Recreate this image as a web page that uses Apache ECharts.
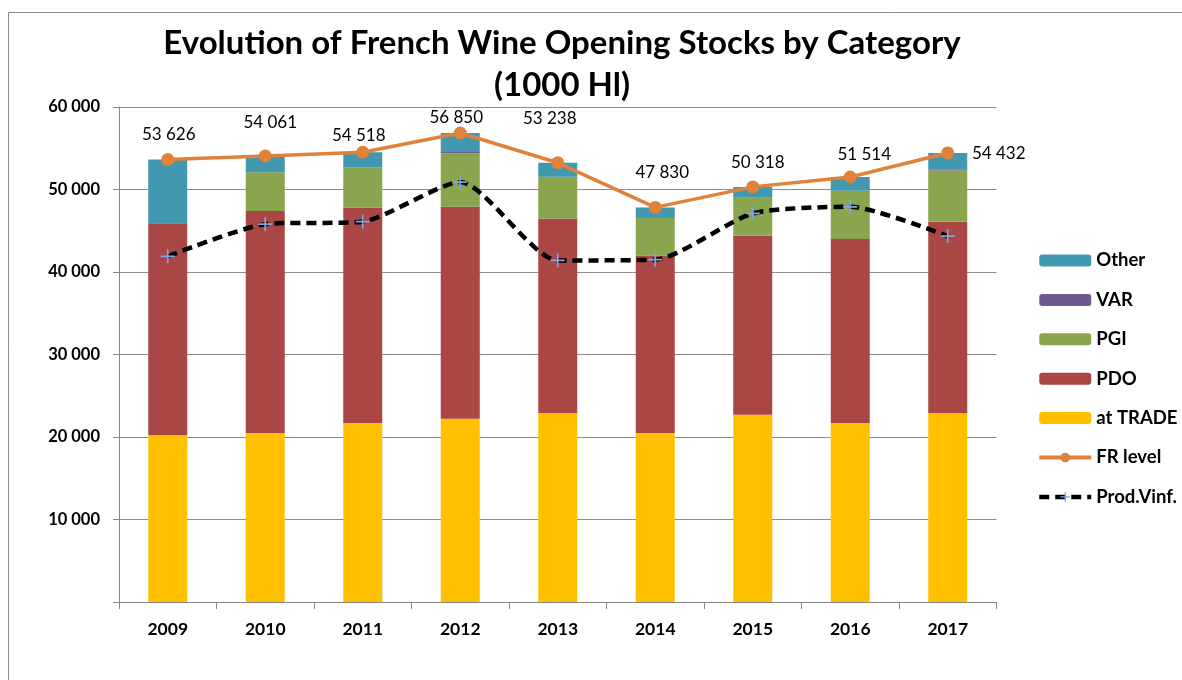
<!DOCTYPE html>
<html>
<head>
<meta charset="utf-8">
<script src="https://cdn.jsdelivr.net/npm/echarts@6/dist/echarts.min.js"></script>
<style>
html,body{margin:0;padding:0;background:#fff;}
#chart{width:1182px;height:680px;}
</style>
</head>
<body>
<div id="chart"></div>
<script>
// ---- data ----
const years = ['2009','2010','2011','2012','2013','2014','2015','2016','2017'];
const atTrade = [20200, 20500, 21700, 22200, 22900, 20500, 22700, 21700, 22900];
const pdo     = [25700, 26900, 26100, 25700, 23600, 21500, 21700, 22300, 23200];
const pgi     = [0, 4700, 4900, 6500, 5050, 4550, 4600, 5850, 6200];
const varCat  = [0, 0, 0, 150, 0, 0, 0, 0, 150];
const other   = [7726, 1961, 1818, 2300, 1688, 1280, 1318, 1664, 1982];
const frLevel = [53626, 54061, 54518, 56850, 53238, 47830, 50318, 51514, 54432];
const prodVinf = [41900, 45800, 46100, 50900, 41400, 41500, 47100, 47900, 44350];
const yTicks = [0, 10000, 20000, 30000, 40000, 50000, 60000];

// ---- layout (label placement, not data) ----
const frLabelOffsets = [[1,-25],[5,-33],[-4,-17],[-4,-15],[-8,-44],[7,-35],[5,-24],[14,-22],[51,1]];

const FONT = 'Lato';
const fmt = v => String(v).replace(/\B(?=(\d{3})+(?!\d))/g, ' ');

const chart = echarts.init(document.getElementById('chart'));

const barSeries = (name, data, color) => ({
  name, type: 'bar', stack: 'stocks', data, barWidth: '40%',
  itemStyle: { color }, emphasis: { disabled: true }
});

const option = {
  animation: false,
  backgroundColor: '#fff',
  graphic: [
    { type: 'rect', shape: { x: 8.5, y: 12.5, width: 1400, height: 900 },
      style: { fill: 'none', stroke: '#8c8c8c', lineWidth: 1 }, silent: true },
    { type: 'text', x: 562, y: 22,
      style: { text: 'Evolution of French Wine Opening Stocks by Category\n(1000 Hl)',
        align: 'center', verticalAlign: 'top', font: 'bold 33px ' + FONT, lineHeight: 42, fill: '#000' } }
  ],
  legend: {
    orient: 'vertical', left: 1032, top: 246, padding: 5,
    itemWidth: 52, itemHeight: 12, itemGap: 20.4,
    data: [
      { name: 'Other' }, { name: 'VAR' }, { name: 'PGI' }, { name: 'PDO' }, { name: 'at TRADE' },
      { name: 'FR level', lineStyle: { width: 4 } },
      { name: 'Prod.Vinf.', lineStyle: { width: 4.5 } }
    ],
    textStyle: { fontFamily: FONT, fontWeight: 'bold', fontSize: 18.5, color: '#000', lineHeight: 17 }
  },
  grid: { left: 119, right: 185.5, top: 107, bottom: 78, containLabel: false },
  xAxis: [
    { type: 'category', data: years, boundaryGap: true,
      axisLine: { lineStyle: { color: '#868686', width: 1 } },
      axisTick: { show: true, length: 7, lineStyle: { color: '#868686' } },
      axisLabel: { fontFamily: FONT, fontWeight: 'bold', fontSize: 17.5, color: '#000', margin: 18 } },
    { type: 'category', data: years, position: 'bottom', boundaryGap: true,
      axisLine: { show: false },
      axisTick: { show: true, alignWithLabel: true, inside: true, length: 4, lineStyle: { color: '#868686' } },
      axisLabel: { show: false } }
  ],
  yAxis: {
    type: 'value', min: 0, max: 60000, interval: 10000,
    axisLine: { show: true, lineStyle: { color: '#868686' } },
    axisTick: { show: true, length: 6, lineStyle: { color: '#868686' } },
    splitLine: { show: true, lineStyle: { color: '#8c8c8c', width: 1 } },
    axisLabel: { fontFamily: FONT, fontWeight: 'bold', fontSize: 16.5, color: '#000', margin: 19,
      formatter: v => (yTicks.includes(v) && v !== 0) ? fmt(v) : '' }
  },
  series: [
    barSeries('at TRADE', atTrade, '#FFC000'),
    barSeries('PDO', pdo, '#AA4643'),
    barSeries('PGI', pgi, '#89A54E'),
    barSeries('VAR', varCat, '#71588F'),
    barSeries('Other', other, '#4198AF'),
    { name: 'Prod.Vinf.', type: 'line', data: prodVinf, smooth: 0.22,
      lineStyle: { color: '#000', width: 4.5, type: [10, 6] },
      symbol: 'path://M0,4.4H10V5.6H0Z M4.4,0H5.6V10H4.4Z', symbolSize: 14,
      itemStyle: { color: '#7EA6E0' }, z: 4, emphasis: { disabled: true } },
    { name: 'FR level', type: 'line', data: frLevel.map((v, i) => ({
        value: v, label: { offset: frLabelOffsets[i] } })),
      lineStyle: { color: '#E0823A', width: 3.5 },
      symbol: 'circle', symbolSize: 13, itemStyle: { color: '#E0823A' }, z: 5,
      label: { show: true, position: 'inside', fontFamily: FONT, fontSize: 17, color: '#000',
        formatter: p => fmt(p.value) },
      emphasis: { disabled: true } }
  ]
};
chart.setOption(option);
</script>
</body>
</html>
